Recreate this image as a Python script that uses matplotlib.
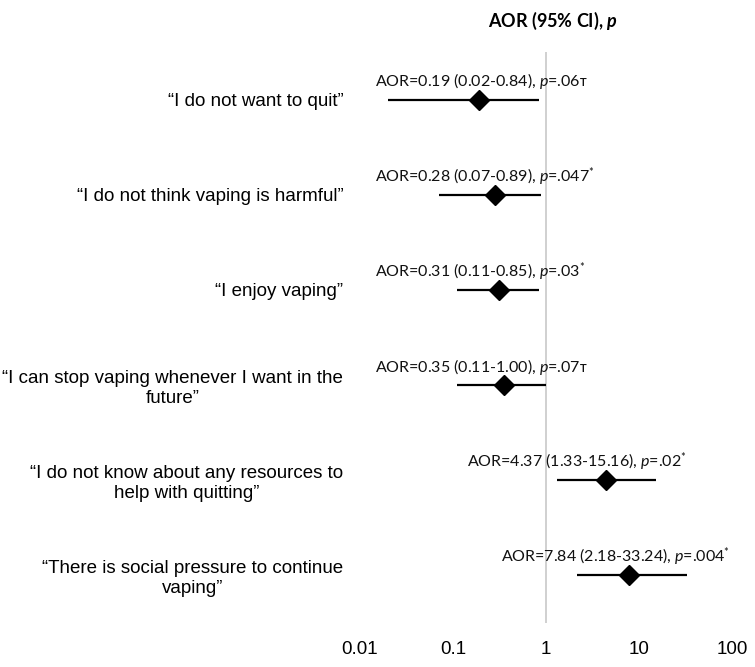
import matplotlib.pyplot as plt

plt.rcParams['mathtext.fontset'] = 'custom'
plt.rcParams['mathtext.rm'] = 'Lato'
plt.rcParams['mathtext.it'] = 'Lato:italic'
plt.rcParams['mathtext.bf'] = 'Lato:bold'
plt.rcParams['mathtext.bfit'] = 'Lato:bold:italic'

# data
items = ['\u201cI do not want to quit\u201d',
         '\u201cI do not think vaping is harmful\u201d',
         '\u201cI enjoy vaping\u201d',
         '\u201cI can stop vaping whenever I want in the\nfuture\u201d',
         '\u201cI do not know about any resources to\nhelp with quitting\u201d',
         '\u201cThere is social pressure to continue\nvaping\u201d']
aor = [0.19, 0.28, 0.31, 0.35, 4.37, 7.84]
ci_low = [0.02, 0.07, 0.11, 0.11, 1.33, 2.18]
ci_high = [0.84, 0.89, 0.85, 1.00, 15.16, 33.24]
p_text = ['.06', '.047', '.03', '.07', '.02', '.004']
sig = ['T', '*', '*', 'T', '*', '*']
xticks = [0.01, 0.1, 1, 10, 100]
xtick_labels = ['0.01', '0.1', '1', '10', '100']

# where each annotation starts (x, data units)
annot_x = [0.0145, 0.0145, 0.0145, 0.0145, 0.14, 0.33]

fig = plt.figure(figsize=(7.55, 6.67), dpi=100)
ax = fig.add_axes([0.4768, 0.066, 0.4927, 0.856])

ypos = list(range(len(items)))

ax.axvline(1, color='#c8c8c8', lw=1.2, zorder=1)
ax.hlines(ypos, ci_low, ci_high, color='black', lw=1.6, zorder=2)
ax.plot(aor, ypos, 'D', color='black', ms=10, zorder=3)

for i in ypos:
    if sig[i] == 'T':
        mark = '\u1d1b'
    else:
        mark = '$^{*}$'
    txt = 'AOR=%.2f (%.2f-%.2f), $\\it{p}$=%s%s' % (aor[i], ci_low[i], ci_high[i], p_text[i], mark)
    ax.text(annot_x[i], i - 0.14, txt, ha='left', va='baseline',
            fontsize=11.5, family=['Lato', 'DejaVu Sans'], color='#111111')

ax.set_xscale('log')
ax.set_xlim(0.01, 100)
ax.set_ylim(len(items) - 0.5, -0.5)
ax.set_xticks(xticks)
ax.set_xticklabels(xtick_labels, fontsize=13.5, family='Liberation Sans')
ax.minorticks_off()
ax.set_yticks(ypos)
ax.set_yticklabels(items, fontsize=13.5, family='Liberation Sans')
for lab in ax.get_yticklabels():
    lab.set_multialignment('center')
ax.tick_params(axis='x', length=0, pad=13)
ax.tick_params(axis='y', length=0, pad=12)
for s in ax.spines.values():
    s.set_visible(False)

fig.text(0.733, 0.969, 'AOR (95% CI), $\\mathbfit{p}$', ha='center', va='center',
         fontsize=13, fontweight='bold', family='Lato')

fig.savefig('out.png', dpi=100)
